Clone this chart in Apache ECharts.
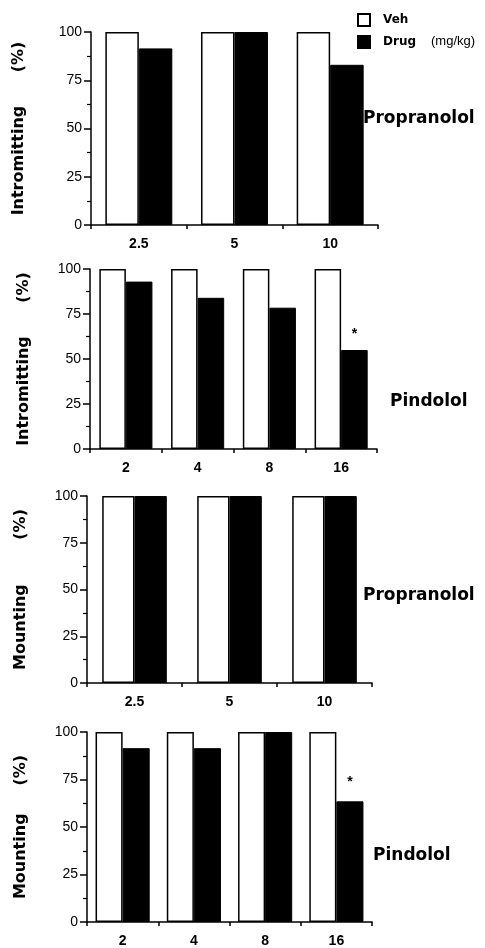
<!DOCTYPE html>
<html>
<head>
<meta charset="utf-8">
<script src="https://cdn.jsdelivr.net/npm/echarts@6/dist/echarts.min.js"></script>
<style>html,body{margin:0;padding:0;background:#fff;}#c{width:485px;height:948px;}</style>
</head>
<body>
<div id="c"></div>
<script>
// ---- data ----
const p1Cats = ['2.5', '5', '10'];
const p1Veh = [100, 100, 100];
const p1Drug = [91.5, 100, 83];
const p1Sig = ['', '', ''];

const p2Cats = ['2', '4', '8', '16'];
const p2Veh = [100, 100, 100, 100];
const p2Drug = [93, 84, 78.5, 55];
const p2Sig = ['', '', '', '*'];

const p3Cats = ['2.5', '5', '10'];
const p3Veh = [100, 100, 100];
const p3Drug = [100, 100, 100];
const p3Sig = ['', '', ''];

const p4Cats = ['2', '4', '8', '16'];
const p4Veh = [100, 100, 100, 100];
const p4Drug = [91.5, 91.5, 100, 63.5];
const p4Sig = ['', '', '', '*'];

const yTicks = [0, 25, 50, 75, 100];
const legendNames = ['Veh', 'Drug'];
const unitText = '(mg/kg)';

const panels = [
  {cats: p1Cats, veh: p1Veh, drug: p1Drug, sig: p1Sig, yName: 'Intromitting      (%)', drugName: 'Propranolol',
   grid: {left: 91, top: 32, width: 287, height: 193}, gap: '30%', nameGap: 64, starDist: 10, lab: [363, 120]},
  {cats: p2Cats, veh: p2Veh, drug: p2Drug, sig: p2Sig, yName: 'Intromitting      (%)', drugName: 'Pindolol',
   grid: {left: 90, top: 269, width: 287, height: 180}, gap: '26%', nameGap: 58, starDist: 9, lab: [390, 403]},
  {cats: p3Cats, veh: p3Veh, drug: p3Drug, sig: p3Sig, yName: 'Mounting        (%)', drugName: 'Propranolol',
   grid: {left: 87, top: 496, width: 285, height: 187}, gap: '32%', nameGap: 58, starDist: 10, lab: [363, 597]},
  {cats: p4Cats, veh: p4Veh, drug: p4Drug, sig: p4Sig, yName: 'Mounting     (%)', drugName: 'Pindolol',
   grid: {left: 87, top: 732, width: 285, height: 191}, gap: '24%', nameGap: 58, starDist: 12, lab: [373, 857]}
];

const grids = [], xAxes = [], yAxes = [], series = [], graphics = [];
const axisColor = '#000';
panels.forEach((p, i) => {
  grids.push(Object.assign({}, p.grid, {containLabel: false}));
  xAxes.push({
    type: 'category', gridIndex: i, data: p.cats,
    axisLine: {lineStyle: {color: axisColor, width: 1.5}},
    axisTick: {show: true, length: 4, lineStyle: {color: axisColor, width: 1.5}},
    axisLabel: {color: '#000', fontFamily: 'Liberation Sans', fontWeight: 'bold', fontSize: 14, margin: 12},
    splitLine: {show: false}
  });
  yAxes.push({
    type: 'value', gridIndex: i, min: yTicks[0], max: yTicks[yTicks.length - 1], interval: yTicks[1] - yTicks[0],
    name: p.yName, nameLocation: 'middle', nameGap: p.nameGap, nameRotate: 90,
    nameTextStyle: {color: '#000', fontFamily: 'DejaVu Sans', fontWeight: 'bold', fontSize: 16},
    axisLine: {show: true, lineStyle: {color: axisColor, width: 1.5}},
    axisTick: {show: true, length: 7, lineStyle: {color: axisColor, width: 1.5}},
    minorTick: {show: true, splitNumber: 2, length: 4, lineStyle: {color: axisColor, width: 1.2}},
    axisLabel: {color: '#000', fontFamily: 'Liberation Sans', fontSize: 14, margin: 9},
    splitLine: {show: false}
  });
  series.push({
    name: legendNames[0], type: 'bar', xAxisIndex: i, yAxisIndex: i, data: p.veh,
    barGap: '0%', barCategoryGap: p.gap,
    itemStyle: {color: '#fff', borderColor: '#000', borderWidth: 1.5}
  });
  series.push({
    name: legendNames[1], type: 'bar', xAxisIndex: i, yAxisIndex: i,
    data: p.drug.map((v, k) => ({
      value: v,
      label: {show: p.sig[k] !== '', position: 'top', formatter: p.sig[k], distance: p.starDist,
              color: '#000', fontSize: 14, fontWeight: 'bold', fontFamily: 'Liberation Sans'}
    })),
    barGap: '0%', barCategoryGap: p.gap,
    itemStyle: {color: '#000', borderColor: '#000', borderWidth: 1}
  });
  graphics.push({
    type: 'text', left: p.lab[0], top: p.lab[1] - 10,
    style: {text: p.drugName, fill: '#000', font: 'bold 17px "DejaVu Sans"'}
  });
});

graphics.push({
  type: 'text', left: 431, top: 35,
  style: {text: unitText, fill: '#000', font: '13px "Liberation Sans"'}
});

const chart = echarts.init(document.getElementById('c'), null, {renderer: 'canvas'});
chart.setOption({
  backgroundColor: '#fff',
  animation: false,
  legend: {
    data: legendNames, orient: 'vertical', left: 357, top: 13, padding: 0,
    itemWidth: 12, itemHeight: 12, itemGap: 8, icon: 'rect',
    textStyle: {color: '#000', fontFamily: 'DejaVu Sans', fontWeight: 'bold', fontSize: 12, padding: [0, 0, 0, 8]}
  },
  grid: grids, xAxis: xAxes, yAxis: yAxes, series: series,
  graphic: graphics
});
</script>
</body>
</html>
